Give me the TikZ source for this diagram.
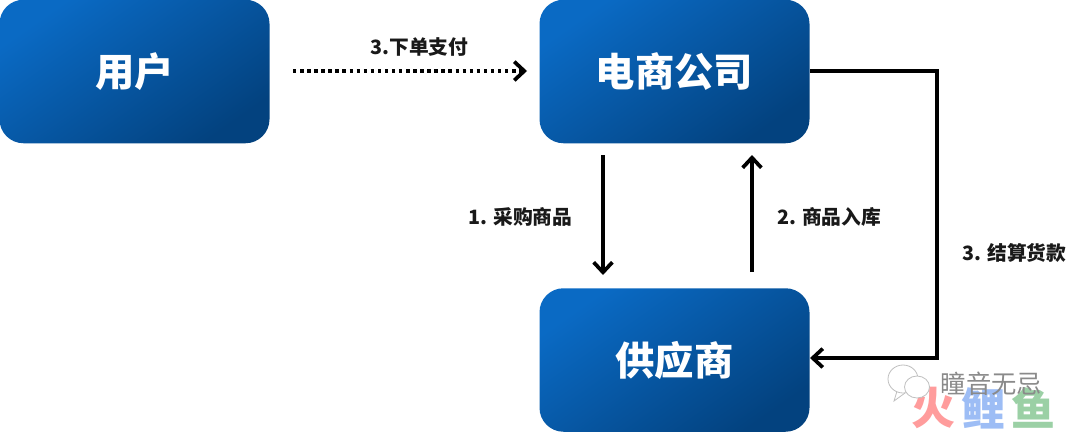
\documentclass[tikz,border=0pt]{standalone}
\usepackage{fontspec}
\setmainfont{Noto Sans CJK SC}
\usetikzlibrary{arrows.meta,calc}
\definecolor{boxa}{HTML}{0A6AC4}
\definecolor{boxm}{HTML}{065FB0}
\definecolor{boxb}{HTML}{03427F}
\definecolor{wmgray}{HTML}{8A8A8A}
\definecolor{wmred}{HTML}{FF9C9C}
\definecolor{wmblue}{HTML}{9DBDF5}
\definecolor{wmgreen}{HTML}{9BD0A5}
\tikzset{
  blockbox/.style={rectangle,rounded corners=18pt,minimum width=270*0.75pt,minimum height=143.5*0.75pt,
    inner sep=0pt,shading=axis,left color=boxa,middle color=boxm,right color=boxb,shading angle=35,
    text=white,font=\fontsize{29.5}{32}\selectfont\bfseries},
  flowlabel/.style={inner sep=0pt,font=\fontsize{14.8}{17}\selectfont\bfseries,text=black!90},
  flow/.style={draw=black,line width=2.4pt,-{Straight Barb[length=7.5pt,width=14pt,line width=2.8pt]}},
  payflow/.style={flow,dash pattern=on 2.6pt off 2.7pt},
  wmchar/.style={inner sep=0pt,font=\fontsize{33}{33}\selectfont\bfseries},
  wmbubble/.style={draw=wmgray!55,fill=white,line width=0.6pt},
}
\begin{document}
\begin{tikzpicture}[x=0.75pt,y=-0.75pt]
\useasboundingbox (0,0) rectangle (1080,432);
\node[blockbox] (user) at (134.5,71.5) {用户};
\node[blockbox] (ecom) at (674.5,71.5) {电商公司};
\node[blockbox] (supp) at (674.5,360) {供应商};
% free ends
\coordinate (payS) at (293,71);
\coordinate (payE) at (527,71);
\coordinate (buyS) at (603,155);
\coordinate (buyE) at (603,275);
\coordinate (inS) at (752,272);
\coordinate (inE) at (752,155);
\coordinate (c1) at (937,71);
\coordinate (c2) at (937,358);
\coordinate (settleS) at (810,71);
\coordinate (settleE) at (810,358);
\draw[payflow] (payS) -- (payE);
\draw[flow] (buyS) -- (buyE);
\draw[flow] (inS) -- (inE);
\draw[flow] (settleS) -- (c1) -- (c2) -- (settleE);
\node[flowlabel] (lpay) at (419.5,47) {3.下单支付};
\node[flowlabel] (lbuy) at (520.5,217) {1. 采购商品};
\node[flowlabel] (lin) at (829,217) {2. 商品入库};
\node[flowlabel] (lset) at (1014.5,253) {3. 结算货款};
% watermark
\node[wmchar,text=wmred] (wm1) at (933,408) {火};
\node[wmchar,text=wmblue] (wm2) at (983.5,408) {鲤};
\node[wmchar,text=wmgreen] (wm3) at (1033.5,408) {鱼};
\node[inner sep=0pt,text=wmgray,font=\fontsize{19}{19}\selectfont] (wm4) at (991.5,384) {瞳音无忌};
\draw[wmbubble] (897,391) -- (894,401) -- (905,393);
\draw[wmbubble] (903,379) ellipse (15 and 14);
\draw[wmbubble] (917,387) ellipse (12.5 and 11);
\end{tikzpicture}
\end{document}
